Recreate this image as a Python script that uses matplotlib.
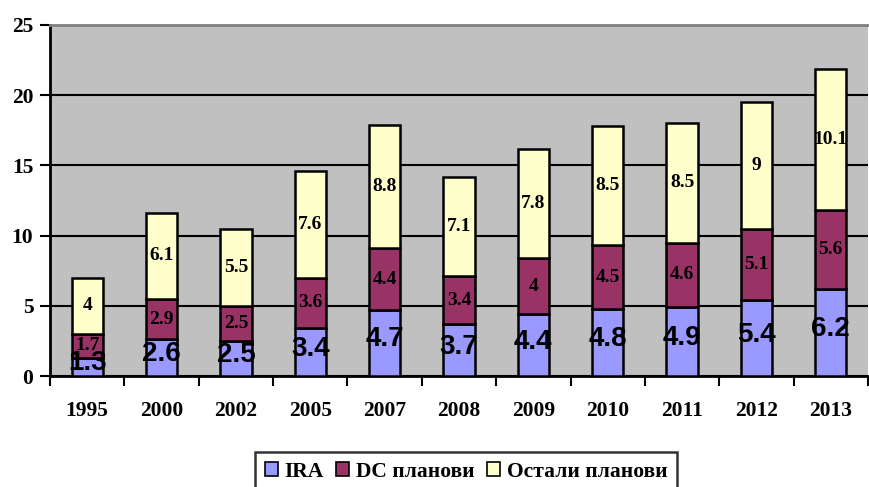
import numpy as np
import matplotlib
matplotlib.use("Agg")
import matplotlib.pyplot as plt

years = ["1995", "2000", "2002", "2005", "2007", "2008", "2009", "2010", "2011", "2012", "2013"]
ira = [1.3, 2.6, 2.5, 3.4, 4.7, 3.7, 4.4, 4.8, 4.9, 5.4, 6.2]
dc = [1.7, 2.9, 2.5, 3.6, 4.4, 3.4, 4.0, 4.5, 4.6, 5.1, 5.6]
other = [4.0, 6.1, 5.5, 7.6, 8.8, 7.1, 7.8, 8.5, 8.5, 9.0, 10.1]
series_names = ["IRA", "DC планови", "Остали планови"]
colors = ["#9999FF", "#993366", "#FFFFCC"]

serif = "Liberation Serif"
sans = "Liberation Sans"

fig = plt.figure(figsize=(8.7, 4.87), dpi=100)
ax = fig.add_axes([50 / 870, 1 - 376 / 487, 818 / 870, 351 / 487])
ax.set_facecolor("#C0C0C0")

x = np.arange(len(years))
w = 0.42
ira_a = np.array(ira)
dc_a = np.array(dc)
oth_a = np.array(other)

bars = []
bottom = np.zeros(len(years))
for vals, col, name in zip([ira_a, dc_a, oth_a], colors, series_names):
    b = ax.bar(x, vals, w, bottom=bottom, color=col, edgecolor="black",
               linewidth=1.8, label=name, zorder=3)
    bars.append(b)
    bottom = bottom + vals

# segment labels: IRA in big sans, the rest in serif
for xi, v in zip(x, ira_a):
    ax.text(xi, v / 2 + 0.25, f"{v:g}", ha="center", va="center", fontsize=20,
            fontweight="bold", family=sans, zorder=5)
for vals, bot in [(dc_a, ira_a), (oth_a, ira_a + dc_a)]:
    for xi, v, b0 in zip(x, vals, bot):
        ax.text(xi, b0 + v / 2, f"{v:g}", ha="center", va="center", fontsize=14,
                fontweight="bold", family=serif, zorder=5)

ax.set_ylim(0, 25)
ax.set_xlim(-0.5, len(years) - 0.5)
ax.set_yticks(np.arange(0, 26, 5))
ax.yaxis.grid(True, color="black", linewidth=1.5, zorder=0)
ax.set_axisbelow(True)
ax.set_xticks(x)
ax.set_xticklabels(years)
ax.set_xticks(np.arange(-0.5, len(years), 1.0), minor=True)
ax.tick_params(axis="x", which="major", length=0, pad=18)
ax.tick_params(axis="x", which="minor", length=7, width=1.5, direction="out")
ax.tick_params(axis="y", length=7, width=1.5, direction="out", pad=5)
for lbl in ax.get_xticklabels() + ax.get_yticklabels():
    lbl.set_fontfamily(serif)
    lbl.set_fontweight("bold")
    lbl.set_fontsize(15.5)

ax.spines["left"].set_linewidth(2)
ax.spines["bottom"].set_linewidth(2)
ax.spines["top"].set_color("#808080")
ax.spines["top"].set_linewidth(2)
ax.spines["right"].set_visible(False)

# legend box runs off the bottom edge, as in the original
leg = fig.legend(bars, series_names, loc="upper left",
                 bbox_to_anchor=(255 / 870, 1 - 452 / 487),
                 ncol=3, frameon=True, fancybox=False, edgecolor="black",
                 handlelength=0.6, handleheight=0.6, handletextpad=0.3,
                 columnspacing=0.6, borderpad=0.45, borderaxespad=0,
                 prop={"family": serif, "weight": "bold", "size": 15.5})
leg.get_frame().set_linewidth(1.8)
for h in leg.legend_handles:
    h.set_linewidth(1.2)

fig.savefig("out.png", dpi=100)
